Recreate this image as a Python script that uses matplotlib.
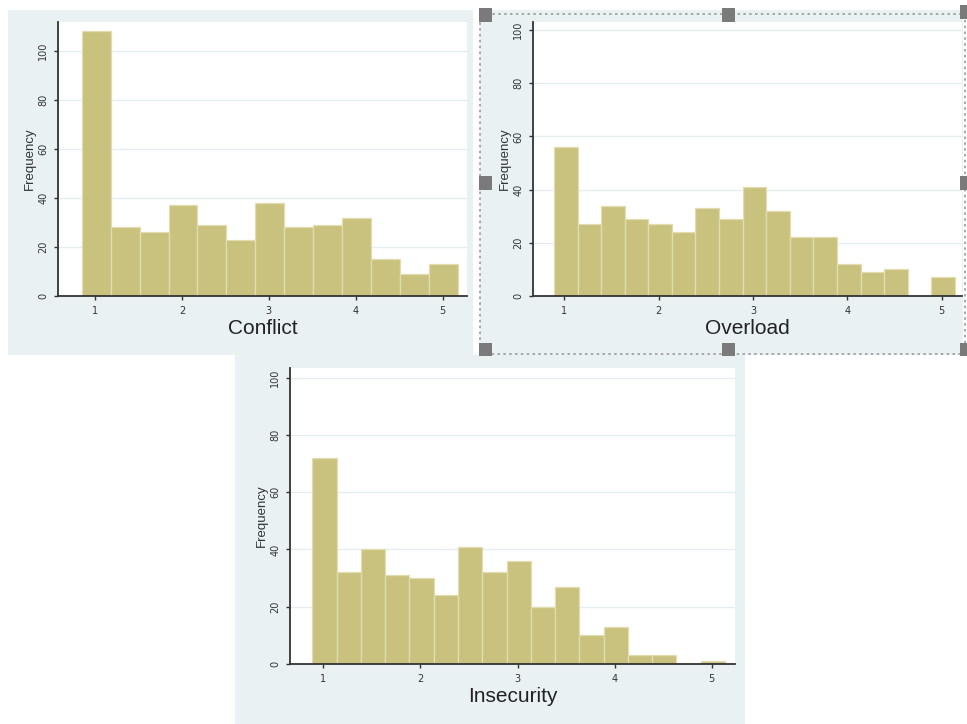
import matplotlib.pyplot as plt
from matplotlib.patches import Rectangle

# Histogram counts
conflict = [108, 28, 26, 37, 29, 23, 38, 28, 29, 32, 15, 9, 13]
overload = [56, 27, 34, 29, 27, 24, 33, 29, 41, 32, 22, 22, 12, 9, 10, 0, 7]
insecurity = [72, 32, 40, 31, 30, 24, 41, 32, 36, 20, 27, 10, 13, 3, 3, 0, 1]

# bin start and bin width for each variable
conflict_bins = (0.847, 0.333)
overload_bins = (0.89, 0.25)
insecurity_bins = (0.887, 0.25)

yticks = [0, 20, 40, 60, 80, 100]
xticks = [1, 2, 3, 4, 5]

W, H = 967, 724
bar_color = '#c9c27e'
bg_color = '#e9f1f3'
grid_color = '#e4eef0'


def fx(x):
    return x / W


def fy(y):
    return 1 - y / H


fig = plt.figure(figsize=(W / 100, H / 100), dpi=100)
fig.patch.set_facecolor('white')

# graph region backgrounds (pixel boxes: left, top, right, bottom)
for l, t, r, b in [(8, 10, 473, 355), (480, 10, 963, 355), (235, 355, 745, 724)]:
    fig.patches.append(Rectangle((fx(l), fy(b)), fx(r - l), (b - t) / H,
                                 transform=fig.transFigure, facecolor=bg_color,
                                 edgecolor='none', zorder=-5))


def panel(box, counts, bins, xlim, ylim, label):
    l, t, r, b = box
    ax = fig.add_axes([fx(l), fy(b), fx(r - l), (b - t) / H])
    ax.set_facecolor('white')
    start, width = bins
    edges = [start + i * width for i in range(len(counts))]
    ax.bar(edges, counts, width=width, align='edge', color=bar_color,
           edgecolor='#e2ddb0', linewidth=0.9, zorder=2)
    ax.set_xlim(*xlim)
    ax.set_ylim(*ylim)
    ax.set_yticks(yticks)
    ax.set_xticks(xticks)
    ax.set_yticklabels([str(v) for v in yticks], rotation=90, va='center',
                       fontsize=7, color='#333333')
    ax.set_xticklabels([str(v) for v in xticks], fontsize=7, color='#333333')
    ax.tick_params(axis='both', length=3, width=1, color='#333333', pad=4)
    ax.yaxis.grid(True, color=grid_color, linewidth=1, zorder=0)
    ax.set_axisbelow(True)
    for s in ['top', 'right']:
        ax.spines[s].set_visible(False)
    for s in ['left', 'bottom']:
        ax.spines[s].set_color('#333333')
        ax.spines[s].set_linewidth(1.3)
    ax.set_ylabel('Frequency', fontsize=9.5, color='#333333', labelpad=2,
                  family=['Liberation Sans', 'DejaVu Sans'])
    ax.set_xlabel(label, fontsize=15, color='#222222', labelpad=2,
                  family=['Liberation Sans', 'DejaVu Sans'])
    return ax


panel((58, 22, 467, 296), conflict, conflict_bins, (0.574, 5.28), (0, 111.8), 'Conflict')
panel((533, 22, 962, 296), overload, overload_bins, (0.668, 5.215), (0, 103), 'Overload')
panel((290, 368, 735, 664), insecurity, insecurity_bins, (0.657, 5.24), (0, 103.4), 'Insecurity')

# selection frame around the second panel
l, t, r, b = 480, 14, 965, 354
fig.patches.append(Rectangle((fx(l), fy(b)), fx(r - l), (b - t) / H,
                             transform=fig.transFigure, facecolor='none',
                             edgecolor='#9a9a9a', linestyle=(0, (1.5, 2)),
                             linewidth=1.2, zorder=5))
hs = 13
for cx, cy in [(485, 15), (728, 15), (966, 12), (485, 183), (966, 183),
               (485, 349), (728, 349), (966, 349)]:
    fig.patches.append(Rectangle((fx(cx - hs / 2), fy(cy + hs / 2)), fx(hs), hs / H,
                                 transform=fig.transFigure, facecolor='#7a7a7a',
                                 edgecolor='none', zorder=6))

plt.savefig('out.png', dpi=100)
